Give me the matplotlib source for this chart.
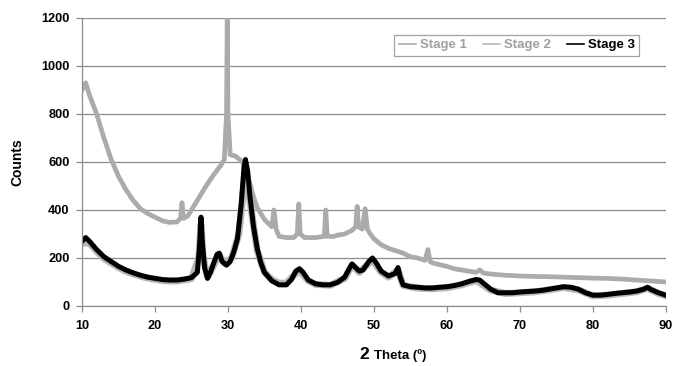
import matplotlib.pyplot as plt

# values (2 theta in degrees, counts)
theta1 = [10.0, 10.5, 11.0, 12.0, 13.0, 14.0, 15.0, 16.0, 17.0, 18.0, 19.0, 20.0,
          21.0, 22.0, 23.0, 23.5, 23.7, 23.9, 24.5, 25.0, 26.0, 27.0, 28.0, 29.0,
          29.5, 29.8, 29.9, 30.0, 30.3, 31.0, 32.0, 32.5, 33.0, 33.5, 34.0, 35.0,
          36.0, 36.3, 36.6, 37.0, 38.0, 39.0, 39.5, 39.7, 39.9, 40.5, 41.0, 42.0,
          43.2, 43.4, 43.6, 44.5, 45.0, 46.0, 47.0, 47.5, 47.7, 47.9, 48.4, 48.8,
          49.1, 49.5, 50.0, 51.0, 52.0, 53.0, 54.0, 55.0, 56.0, 57.0, 57.4, 57.7,
          58.0, 59.0, 60.0, 61.0, 62.0, 63.0, 64.0, 64.5, 65.0, 66.0, 68.0, 70.0,
          72.0, 74.0, 76.0, 78.0, 80.0, 82.0, 84.0, 86.0, 88.0, 90.0]
stage1 = [900, 930, 880, 800, 700, 610, 540, 485, 440, 405, 385, 370,
          355, 348, 350, 365, 430, 365, 375, 400, 450, 500, 545, 585,
          610, 800, 1200, 800, 630, 625, 600, 570, 510, 455, 410, 360,
          330, 400, 320, 290, 285, 285, 300, 425, 300, 285, 285, 285,
          290, 400, 290, 290, 295, 300, 315, 330, 415, 330, 320, 405,
          320, 300, 280, 255, 240, 230, 220, 205, 200, 190, 235, 185,
          180, 172, 165, 155, 150, 145, 140, 150, 137, 133, 128, 125,
          123, 122, 120, 118, 116, 115, 112, 108, 104, 100]

theta2 = [10, 11, 12, 13, 14, 15, 16, 17, 18, 19, 20, 21, 22, 23, 24, 25, 26,
          26.3, 26.6, 27.2, 28, 28.8, 29.5, 30.5, 31.5, 32.4, 33.0, 34, 35, 36,
          37, 38, 39.7, 41, 42, 44, 46, 47, 48, 49.8, 51, 52, 53.3, 54, 56, 58,
          60, 62, 64, 66, 68, 70, 72, 74, 76, 78, 80, 82, 84, 86, 87.5, 89, 90]
stage2 = [262, 262, 228, 198, 178, 160, 145, 133, 124, 116, 111, 106, 104, 104,
          108, 114, 200, 340, 200, 120, 168, 212, 178, 200, 300, 560, 440, 232,
          140, 110, 95, 95, 150, 105, 90, 86, 115, 170, 140, 192, 140, 120, 150,
          86, 74, 72, 76, 88, 106, 66, 52, 55, 59, 67, 77, 67, 42, 45, 52, 59,
          74, 52, 42]

theta3 = [10.0, 10.5, 11.0, 12.0, 13.0, 14.0, 15.0, 16.0, 17.0, 18.0, 19.0, 20.0,
          21.0, 22.0, 23.0, 24.0, 25.0, 25.8, 26.1, 26.3, 26.5, 26.8, 27.2, 27.6,
          28.0, 28.5, 28.8, 29.2, 29.8, 30.3, 30.8, 31.3, 31.8, 32.2, 32.4, 32.7,
          33.0, 33.5, 34.0, 34.5, 35.0, 36.0, 37.0, 38.0, 38.7, 39.3, 39.8, 40.3,
          41.0, 42.0, 43.0, 44.0, 45.0, 46.0, 46.7, 47.0, 47.5, 48.0, 48.5, 49.3,
          49.8, 50.3, 51.0, 52.0, 52.9, 53.3, 53.6, 54.0, 55.0, 56.0, 57.0, 58.0,
          59.0, 60.0, 61.0, 62.0, 63.0, 64.0, 64.5, 65.0, 66.0, 67.0, 68.0, 69.0,
          70.0, 71.0, 72.0, 73.0, 74.0, 75.0, 76.0, 77.0, 78.0, 79.0, 80.0, 81.0,
          82.0, 83.0, 84.0, 85.0, 86.0, 87.0, 87.5, 88.0, 89.0, 90.0]
stage3 = [270, 285, 270, 235, 205, 185, 165, 150, 138, 128, 120, 115,
          110, 108, 108, 112, 118, 140, 250, 370, 260, 160, 115, 140,
          175, 215, 220, 185, 170, 185, 225, 280, 420, 580, 610, 560,
          460, 330, 240, 180, 140, 105, 88, 88, 110, 145, 155, 140,
          108, 92, 88, 88, 98, 120, 160, 175, 160, 145, 150, 185,
          200, 180, 145, 125, 135, 160, 120, 88, 80, 78, 75, 75,
          78, 80, 85, 92, 102, 110, 108, 95, 70, 55, 55, 55,
          58, 60, 62, 65, 70, 75, 80, 78, 70, 55, 45, 45,
          48, 52, 55, 58, 62, 70, 78, 68, 55, 45]

labels = ['Stage 1', 'Stage 2', 'Stage 3']
colors = ['#ababab', '#b8b8b8', '#000000']

plt.rcParams['font.family'] = ['Liberation Sans', 'DejaVu Sans']

fig = plt.figure(figsize=(6.78, 3.66), dpi=100)
ax = fig.add_axes([0.121, 0.164, 0.861, 0.787])

ax.plot(theta1, stage1, color=colors[0], lw=3.4, solid_joinstyle='round', label=labels[0])
ax.plot(theta2, stage2, color=colors[1], lw=5.0, solid_joinstyle='round', label=labels[1])
ax.plot(theta3, stage3, color=colors[2], lw=3.6, solid_joinstyle='round', label=labels[2])

ax.set_xlim(10, 90)
ax.set_ylim(0, 1200)
ax.set_xticks(range(10, 91, 10))
ax.set_yticks(range(0, 1201, 200))
ax.yaxis.grid(True, color='#8c8c8c', lw=0.9)
ax.set_axisbelow(True)
for s in ['top', 'right']:
    ax.spines[s].set_visible(False)
for s in ['left', 'bottom']:
    ax.spines[s].set_color('#8c8c8c')
    ax.spines[s].set_linewidth(0.9)
ax.tick_params(axis='both', colors='#8c8c8c', length=4, width=0.9,
               labelcolor='black', labelsize=9.2)
ax.tick_params(axis='x', pad=6)
ax.tick_params(axis='y', pad=5)
for t in ax.get_xticklabels() + ax.get_yticklabels():
    t.set_fontweight('bold')

ax.set_ylabel('Counts', fontsize=10, fontweight='bold', labelpad=12)
fig.text(0.545, 0.02, '2', fontsize=12.5, fontweight='bold', ha='right', va='baseline')
fig.text(0.552, 0.02, 'Theta (º)', fontsize=9.5, fontweight='bold', ha='left', va='baseline')

leg = ax.legend(loc='upper right', bbox_to_anchor=(0.966, 0.965), ncol=3,
                frameon=True, fancybox=False, handlelength=1.3, handletextpad=0.3,
                columnspacing=1.2, borderpad=0.35, fontsize=9.5)
leg.get_frame().set_edgecolor('#8c8c8c')
leg.get_frame().set_linewidth(0.9)
for txt, c in zip(leg.get_texts(), ['#a0a0a0', '#a0a0a0', '#000000']):
    txt.set_color(c)
    txt.set_fontweight('bold')
for h in leg.get_lines():
    h.set_linewidth(1.2)

fig.savefig('out.png', dpi=100)
